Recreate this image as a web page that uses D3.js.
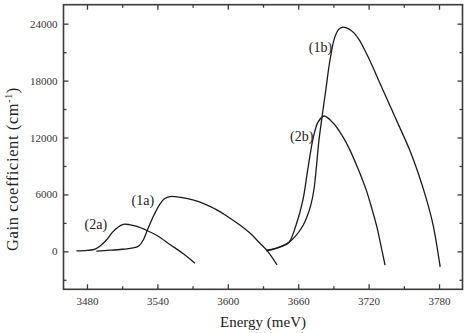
<!DOCTYPE html>
<html><head><meta charset="utf-8">
<script src="https://cdn.jsdelivr.net/npm/d3@7"></script>
<style>body{margin:0;background:#fff}svg{display:block}</style>
</head><body><svg id="c" width="467" height="333"></svg>
<script>
// Data (energy in meV, gain in cm^-1)
const E2a = [3471, 3480, 3487, 3492, 3497, 3502, 3507, 3511, 3516, 3522, 3531, 3540, 3551, 3561, 3572];
const G2a = [40, 100, 230, 650, 1250, 2050, 2600, 2850, 2820, 2650, 2200, 1650, 700, -150, -1250];
const E1a = [3488, 3500, 3510, 3518, 3524, 3528, 3532, 3537, 3542, 3546, 3551, 3560, 3571, 3580, 3591, 3600, 3610, 3620, 3627, 3634, 3642];
const G1a = [20, 120, 220, 330, 550, 1200, 2400, 3800, 4950, 5550, 5780, 5680, 5400, 5000, 4350, 3650, 2800, 1800, 900, 0, -1430];
const E1b = [3633, 3640, 3646, 3652, 3658, 3664, 3668, 3671, 3673.5, 3675.5, 3677.5, 3680, 3683.5, 3687, 3691, 3694.5, 3698, 3703, 3707.5, 3712, 3717, 3723, 3729.5, 3736.5, 3746, 3755, 3762.5, 3769.5, 3775, 3781];
const G1b = [120, 300, 550, 930, 1650, 2700, 3800, 5000, 6600, 8900, 11500, 13900, 17000, 20100, 22500, 23400, 23640, 23460, 23030, 22300, 21150, 19600, 17750, 15820, 13200, 10680, 8150, 5400, 2750, -1640];
const E2b = [3633, 3640, 3646, 3652, 3658, 3664, 3668, 3673, 3677, 3682, 3690, 3697, 3704, 3711, 3718, 3723, 3727, 3730, 3734];
const G2b = [40, 250, 520, 930, 2700, 5400, 8500, 12100, 13650, 14270, 13500, 12300, 10700, 8700, 6450, 4400, 2600, 900, -1440];
const xTicks = [3480, 3540, 3600, 3660, 3720, 3780];
const xMinor = [3510, 3570, 3630, 3690, 3750];
const yTicks = [0, 6000, 12000, 18000, 24000];
const yMinor = [-3000, 3000, 9000, 15000, 21000];
const labels = [
  {t: "(2a)", x: 3478, y: 2350},
  {t: "(1a)", x: 3518, y: 4850},
  {t: "(1b)", x: 3669, y: 21000},
  {t: "(2b)", x: 3653, y: 11600}
];

const FONT = "'Liberation Serif', 'Times New Roman', Times, serif";
const svg = d3.select("#c");
const L = 63.5, R = 462.5, T = 4.7, B = 289.3;
const x = d3.scaleLinear().domain([3460, 3800]).range([L, R]);
const y = d3.scaleLinear().domain([-4000, 26000]).range([B, T]);
const axisCol = "#3a3a3a";

function styleAxis(g) {
  g.attr("font-family", null);
  g.select(".domain").remove();
  g.selectAll(".tick line").attr("stroke", axisCol).attr("stroke-width", 1.3);
  g.selectAll(".tick text").attr("fill", "#333").style("font-family", FONT).style("font-size", "11px");
}
// major ticks
svg.append("g").attr("transform", `translate(0,${B})`)
  .call(d3.axisBottom(x).tickValues(xTicks).tickSize(-5).tickPadding(8).tickFormat(d3.format("d"))).call(styleAxis);
svg.append("g").attr("transform", `translate(0,${T})`)
  .call(d3.axisTop(x).tickValues(xTicks).tickSize(-5).tickFormat("")).call(styleAxis);
svg.append("g").attr("transform", `translate(${L},0)`)
  .call(d3.axisLeft(y).tickValues(yTicks).tickSize(-5).tickPadding(6).tickFormat(d3.format("d"))).call(styleAxis);
svg.append("g").attr("transform", `translate(${R},0)`)
  .call(d3.axisRight(y).tickValues(yTicks).tickSize(-5).tickFormat("")).call(styleAxis);
// minor ticks
svg.append("g").attr("transform", `translate(0,${B})`)
  .call(d3.axisBottom(x).tickValues(xMinor).tickSize(-3).tickFormat("")).call(styleAxis);
svg.append("g").attr("transform", `translate(0,${T})`)
  .call(d3.axisTop(x).tickValues(xMinor).tickSize(-3).tickFormat("")).call(styleAxis);
svg.append("g").attr("transform", `translate(${L},0)`)
  .call(d3.axisLeft(y).tickValues(yMinor).tickSize(-3).tickFormat("")).call(styleAxis);
svg.append("g").attr("transform", `translate(${R},0)`)
  .call(d3.axisRight(y).tickValues(yMinor).tickSize(-3).tickFormat("")).call(styleAxis);

// frame
svg.append("rect").attr("x", L).attr("y", T).attr("width", R - L).attr("height", B - T)
  .attr("fill", "none").attr("stroke", axisCol).attr("stroke-width", 1.6);

// curves
const line = d3.line().x(d => x(d[0])).y(d => y(d[1])).curve(d3.curveCatmullRom.alpha(0.5));
[[E2a, G2a], [E1a, G1a], [E1b, G1b], [E2b, G2b]].forEach(([E, G]) => {
  svg.append("path").datum(E.map((e, i) => [e, G[i]]))
    .attr("d", line).attr("fill", "none").attr("stroke", "#1a1a1a").attr("stroke-width", 1.3);
});

// curve labels
svg.selectAll(".lbl").data(labels).enter().append("text")
  .attr("x", d => x(d.x)).attr("y", d => y(d.y))
  .attr("fill", "#222").style("font-family", FONT).style("font-size", "14px").text(d => d.t);

// axis titles
svg.append("text").attr("x", (L + R) / 2).attr("y", 327).attr("text-anchor", "middle")
  .attr("fill", "#222").style("font-family", FONT).style("font-size", "15px").text("Energy (meV)");
const yl = svg.append("text").attr("transform", `translate(18,169) rotate(-90)`).attr("text-anchor", "middle")
  .attr("fill", "#222").style("font-family", FONT).style("font-size", "16.5px").style("letter-spacing", "0.6px");
yl.append("tspan").text("Gain coefficient (cm");
yl.append("tspan").attr("dy", -6).style("font-size", "10px").text("-1");
yl.append("tspan").attr("dy", 6).text(")");
</script></body></html>
